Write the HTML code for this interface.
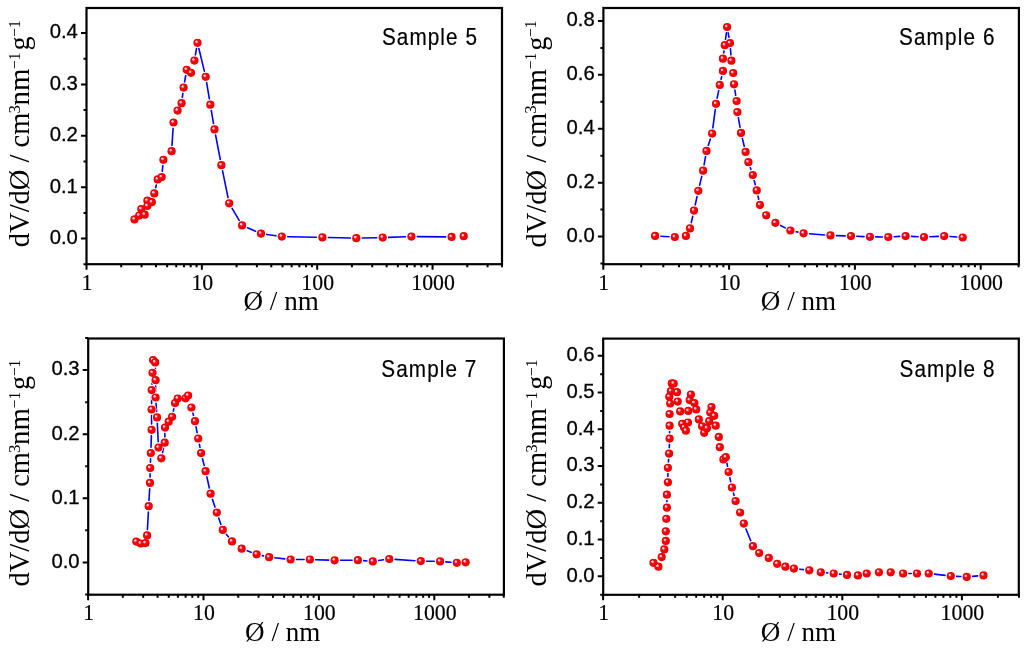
<!DOCTYPE html><html><head><meta charset="utf-8"><style>html,body{margin:0;padding:0;background:#fff;}svg{display:block;}</style></head><body>
<svg style="will-change:transform" width="1024" height="648" viewBox="0 0 1024 648">
<defs><radialGradient id="ball" cx="0.5" cy="0.5" r="0.5" fx="0.33" fy="0.31"><stop offset="0" stop-color="#e8e0ff"/><stop offset="0.2" stop-color="#e8c0e8"/><stop offset="0.4" stop-color="#ff1010"/><stop offset="0.55" stop-color="#ff0000"/><stop offset="0.85" stop-color="#ee0000"/><stop offset="1" stop-color="#dd0000"/></radialGradient></defs>
<rect width="1024" height="648" fill="#fff"/>
<path d="M145.8 209L146.3 206.4M155.67 187.76L156.33 185.04M162.27 171.33L162.83 165.57M171.98 145.41L173.12 128.29M182.34 97.45L182.86 93.35M184.6 81.89L185.7 75.51M195.4 54.89L196.5 48.51M198.86 48.44L204.34 71.16M206.64 82.52L209.36 98.98M211.27 110.42L213.53 123.68M215.6 135.1L220.3 159.5M222.56 170.88L228.04 197.62M232.12 208.31L239.18 220.39M247.42 227.71L255.68 231.29M266.74 234.43L276.06 235.77M287.6 236.71L316.6 237.29M328.2 237.54L350.5 238.06M362.1 238.07L376.9 237.73M388.5 237.4L405.6 236.8M417.2 236.64L445.8 236.86" fill="none" stroke="#0000ff" stroke-width="1.6" stroke-linecap="round"/>
<g fill="#fff"><circle cx="134.5" cy="219.4" r="4.9"/><circle cx="139.2" cy="215.6" r="4.9"/><circle cx="141.3" cy="209.1" r="4.9"/><circle cx="144.7" cy="214.7" r="4.9"/><circle cx="147.4" cy="200.7" r="4.9"/><circle cx="147.4" cy="206" r="4.9"/><circle cx="151.8" cy="202.2" r="4.9"/><circle cx="154.3" cy="193.4" r="4.9"/><circle cx="157.7" cy="179.4" r="4.9"/><circle cx="161.7" cy="177.1" r="4.9"/><circle cx="163.4" cy="159.8" r="4.9"/><circle cx="171.6" cy="151.2" r="4.9"/><circle cx="173.5" cy="122.5" r="4.9"/><circle cx="177.6" cy="110.6" r="4.9"/><circle cx="181.6" cy="103.2" r="4.9"/><circle cx="183.6" cy="87.6" r="4.9"/><circle cx="186.7" cy="69.8" r="4.9"/><circle cx="191" cy="72.8" r="4.9"/><circle cx="194.4" cy="60.6" r="4.9"/><circle cx="197.5" cy="42.8" r="4.9"/><circle cx="205.7" cy="76.8" r="4.9"/><circle cx="210.3" cy="104.7" r="4.9"/><circle cx="214.5" cy="129.4" r="4.9"/><circle cx="221.4" cy="165.2" r="4.9"/><circle cx="229.2" cy="203.3" r="4.9"/><circle cx="242.1" cy="225.4" r="4.9"/><circle cx="261" cy="233.6" r="4.9"/><circle cx="281.8" cy="236.6" r="4.9"/><circle cx="322.4" cy="237.4" r="4.9"/><circle cx="356.3" cy="238.2" r="4.9"/><circle cx="382.7" cy="237.6" r="4.9"/><circle cx="411.4" cy="236.6" r="4.9"/><circle cx="451.6" cy="236.9" r="4.9"/><circle cx="463.7" cy="236.2" r="4.9"/></g>
<g fill="url(#ball)"><circle cx="134.5" cy="219.4" r="4.1"/><circle cx="139.2" cy="215.6" r="4.1"/><circle cx="141.3" cy="209.1" r="4.1"/><circle cx="144.7" cy="214.7" r="4.1"/><circle cx="147.4" cy="200.7" r="4.1"/><circle cx="147.4" cy="206" r="4.1"/><circle cx="151.8" cy="202.2" r="4.1"/><circle cx="154.3" cy="193.4" r="4.1"/><circle cx="157.7" cy="179.4" r="4.1"/><circle cx="161.7" cy="177.1" r="4.1"/><circle cx="163.4" cy="159.8" r="4.1"/><circle cx="171.6" cy="151.2" r="4.1"/><circle cx="173.5" cy="122.5" r="4.1"/><circle cx="177.6" cy="110.6" r="4.1"/><circle cx="181.6" cy="103.2" r="4.1"/><circle cx="183.6" cy="87.6" r="4.1"/><circle cx="186.7" cy="69.8" r="4.1"/><circle cx="191" cy="72.8" r="4.1"/><circle cx="194.4" cy="60.6" r="4.1"/><circle cx="197.5" cy="42.8" r="4.1"/><circle cx="205.7" cy="76.8" r="4.1"/><circle cx="210.3" cy="104.7" r="4.1"/><circle cx="214.5" cy="129.4" r="4.1"/><circle cx="221.4" cy="165.2" r="4.1"/><circle cx="229.2" cy="203.3" r="4.1"/><circle cx="242.1" cy="225.4" r="4.1"/><circle cx="261" cy="233.6" r="4.1"/><circle cx="281.8" cy="236.6" r="4.1"/><circle cx="322.4" cy="237.4" r="4.1"/><circle cx="356.3" cy="238.2" r="4.1"/><circle cx="382.7" cy="237.6" r="4.1"/><circle cx="411.4" cy="236.6" r="4.1"/><circle cx="451.6" cy="236.9" r="4.1"/><circle cx="463.7" cy="236.2" r="4.1"/></g>
<rect x="86.5" y="8" width="415.5" height="256.2" fill="none" stroke="#000" stroke-width="2.2"/>
<path d="M81 238.6H86.5M81 187.2H86.5M81 135.8H86.5M81 84.4H86.5M81 33H86.5M83.5 264.3H86.5M83.5 212.9H86.5M83.5 161.5H86.5M83.5 110.1H86.5M83.5 58.7H86.5M86.5 264.2V269.7M121.22 264.2V267.2M141.54 264.2V267.2M155.95 264.2V267.2M167.13 264.2V267.2M176.26 264.2V267.2M183.98 264.2V267.2M190.67 264.2V267.2M196.57 264.2V267.2M201.85 264.2V269.7M236.57 264.2V267.2M256.89 264.2V267.2M271.3 264.2V267.2M282.48 264.2V267.2M291.61 264.2V267.2M299.33 264.2V267.2M306.02 264.2V267.2M311.92 264.2V267.2M317.2 264.2V269.7M351.92 264.2V267.2M372.24 264.2V267.2M386.65 264.2V267.2M397.83 264.2V267.2M406.96 264.2V267.2M414.68 264.2V267.2M421.37 264.2V267.2M427.27 264.2V267.2M432.55 264.2V269.7M467.27 264.2V267.2M487.59 264.2V267.2M502 264.2V267.2" stroke="#000" stroke-width="2" fill="none"/>
<g font-family="'Liberation Sans', sans-serif" font-size="20.3" text-anchor="end" fill="#000" stroke="#000" stroke-width="0.3"><text x="77.9" y="243.9">0.0</text><text x="77.9" y="192.5">0.1</text><text x="77.9" y="141.1">0.2</text><text x="77.9" y="89.7">0.3</text><text x="77.9" y="38.3">0.4</text></g>
<g font-family="'Liberation Serif', serif" font-size="21.8" text-anchor="middle" fill="#000" stroke="#000" stroke-width="0.2"><text transform="translate(87 289.7) scale(1 1.09)">1</text><text transform="translate(202.35 289.7) scale(1 1.09)">10</text><text transform="translate(317.7 289.7) scale(1 1.09)">100</text><text transform="translate(433.05 289.7) scale(1 1.09)">1000</text></g>
<text transform="translate(243.5 310.1) scale(1 1.03)" font-family="'Liberation Serif', serif" font-size="27.1" fill="#000">&#216; / nm</text>
<g font-family="'Liberation Serif', serif" fill="#000"><text transform="translate(29.4 247.22) rotate(-90) scale(1.0012 1)" font-size="28.5">dV/d&#216; / cm</text><text transform="translate(19.8 113.57) rotate(-90) scale(1.0033 1)" font-size="16.6">3</text><text transform="translate(29.4 105.52) rotate(-90) scale(1.0136 1)" font-size="28.5">nm</text><text transform="translate(19.8 68.88) rotate(-90) scale(0.9350 1)" font-size="16.6">&#8722;1</text><text transform="translate(29.4 50.51) rotate(-90) scale(0.9904 1)" font-size="28.5">g</text><text transform="translate(19.8 36.67) rotate(-90) scale(0.9223 1)" font-size="16.6">&#8722;1</text></g>
<text transform="translate(381.97 45.4) scale(0.9 1)" font-family="'Liberation Sans', sans-serif" font-size="23" fill="#000" stroke="#000" stroke-width="0.2" textLength="105.5" lengthAdjust="spacing">Sample 5</text>
<path d="M660.89 236.22L669.01 236.68M691.27 222.74L692.73 216.26M695.23 204.93L697.07 196.47M699.65 185.16L701.75 176.34M704.08 164.98L705.52 156.62M708.29 145.38L710.31 139.12M712.85 127.85L715.25 109.55M717.14 98.11L718.66 90.59M721.05 79.24L721.65 76.56M723.71 52.96L723.99 50.94M725.53 39.45L726.37 32.75M728.13 32.71L728.97 37.39M730.46 48.88L730.94 54.92M734.89 90.03L735.71 95.27M738.39 117.82L740.01 127.18M742.36 138.54L744.24 146.26M750.29 167.68L750.91 169.52M754.22 180.62L755.28 184.78M757.99 196.06L758.71 199.24M780.56 225.45L785.24 227.85M796.07 231.7L797.93 232.1M809.38 233.75L824.72 234.95M836.3 235.6L845.2 235.9M856.8 236.31L864.1 236.59M875.7 236.86L882.5 236.94M894.09 236.7L899.81 236.4M911.39 236.38L918.21 236.72M929.79 236.74L938.41 236.36M949.98 236.54L956.92 237.06" fill="none" stroke="#0000ff" stroke-width="1.6" stroke-linecap="round"/>
<g fill="#fff"><circle cx="655.1" cy="235.9" r="4.9"/><circle cx="674.8" cy="237" r="4.9"/><circle cx="685.9" cy="235.9" r="4.9"/><circle cx="690" cy="228.4" r="4.9"/><circle cx="694" cy="210.6" r="4.9"/><circle cx="698.3" cy="190.8" r="4.9"/><circle cx="703.1" cy="170.7" r="4.9"/><circle cx="706.5" cy="150.9" r="4.9"/><circle cx="712.1" cy="133.6" r="4.9"/><circle cx="716" cy="103.8" r="4.9"/><circle cx="719.8" cy="84.9" r="4.9"/><circle cx="722.9" cy="70.9" r="4.9"/><circle cx="722.9" cy="58.7" r="4.9"/><circle cx="724.8" cy="45.2" r="4.9"/><circle cx="727.1" cy="27" r="4.9"/><circle cx="730" cy="43.1" r="4.9"/><circle cx="731.4" cy="60.7" r="4.9"/><circle cx="733.2" cy="73" r="4.9"/><circle cx="734" cy="84.3" r="4.9"/><circle cx="736.6" cy="101" r="4.9"/><circle cx="737.4" cy="112.1" r="4.9"/><circle cx="741" cy="132.9" r="4.9"/><circle cx="745.6" cy="151.9" r="4.9"/><circle cx="748.4" cy="162.2" r="4.9"/><circle cx="752.8" cy="175" r="4.9"/><circle cx="756.7" cy="190.4" r="4.9"/><circle cx="760" cy="204.9" r="4.9"/><circle cx="766.2" cy="215.3" r="4.9"/><circle cx="775.4" cy="222.8" r="4.9"/><circle cx="790.4" cy="230.5" r="4.9"/><circle cx="803.6" cy="233.3" r="4.9"/><circle cx="830.5" cy="235.4" r="4.9"/><circle cx="851" cy="236.1" r="4.9"/><circle cx="869.9" cy="236.8" r="4.9"/><circle cx="888.3" cy="237" r="4.9"/><circle cx="905.6" cy="236.1" r="4.9"/><circle cx="924" cy="237" r="4.9"/><circle cx="944.2" cy="236.1" r="4.9"/><circle cx="962.7" cy="237.5" r="4.9"/></g>
<g fill="url(#ball)"><circle cx="655.1" cy="235.9" r="4.1"/><circle cx="674.8" cy="237" r="4.1"/><circle cx="685.9" cy="235.9" r="4.1"/><circle cx="690" cy="228.4" r="4.1"/><circle cx="694" cy="210.6" r="4.1"/><circle cx="698.3" cy="190.8" r="4.1"/><circle cx="703.1" cy="170.7" r="4.1"/><circle cx="706.5" cy="150.9" r="4.1"/><circle cx="712.1" cy="133.6" r="4.1"/><circle cx="716" cy="103.8" r="4.1"/><circle cx="719.8" cy="84.9" r="4.1"/><circle cx="722.9" cy="70.9" r="4.1"/><circle cx="722.9" cy="58.7" r="4.1"/><circle cx="724.8" cy="45.2" r="4.1"/><circle cx="727.1" cy="27" r="4.1"/><circle cx="730" cy="43.1" r="4.1"/><circle cx="731.4" cy="60.7" r="4.1"/><circle cx="733.2" cy="73" r="4.1"/><circle cx="734" cy="84.3" r="4.1"/><circle cx="736.6" cy="101" r="4.1"/><circle cx="737.4" cy="112.1" r="4.1"/><circle cx="741" cy="132.9" r="4.1"/><circle cx="745.6" cy="151.9" r="4.1"/><circle cx="748.4" cy="162.2" r="4.1"/><circle cx="752.8" cy="175" r="4.1"/><circle cx="756.7" cy="190.4" r="4.1"/><circle cx="760" cy="204.9" r="4.1"/><circle cx="766.2" cy="215.3" r="4.1"/><circle cx="775.4" cy="222.8" r="4.1"/><circle cx="790.4" cy="230.5" r="4.1"/><circle cx="803.6" cy="233.3" r="4.1"/><circle cx="830.5" cy="235.4" r="4.1"/><circle cx="851" cy="236.1" r="4.1"/><circle cx="869.9" cy="236.8" r="4.1"/><circle cx="888.3" cy="237" r="4.1"/><circle cx="905.6" cy="236.1" r="4.1"/><circle cx="924" cy="237" r="4.1"/><circle cx="944.2" cy="236.1" r="4.1"/><circle cx="962.7" cy="237.5" r="4.1"/></g>
<rect x="603.4" y="8" width="415.5" height="256.2" fill="none" stroke="#000" stroke-width="2.2"/>
<path d="M597.9 236.55H603.4M597.9 182.65H603.4M597.9 128.75H603.4M597.9 74.85H603.4M597.9 20.95H603.4M600.4 263.5H603.4M600.4 209.6H603.4M600.4 155.7H603.4M600.4 101.8H603.4M600.4 47.9H603.4M603.3 264.2V269.7M641.17 264.2V267.2M663.32 264.2V267.2M679.04 264.2V267.2M691.23 264.2V267.2M701.19 264.2V267.2M709.61 264.2V267.2M716.91 264.2V267.2M723.34 264.2V267.2M729.1 264.2V269.7M766.97 264.2V267.2M789.12 264.2V267.2M804.84 264.2V267.2M817.03 264.2V267.2M826.99 264.2V267.2M835.41 264.2V267.2M842.71 264.2V267.2M849.14 264.2V267.2M854.9 264.2V269.7M892.77 264.2V267.2M914.92 264.2V267.2M930.64 264.2V267.2M942.83 264.2V267.2M952.79 264.2V267.2M961.21 264.2V267.2M968.51 264.2V267.2M974.94 264.2V267.2M980.7 264.2V269.7M1018.57 264.2V267.2" stroke="#000" stroke-width="2" fill="none"/>
<g font-family="'Liberation Sans', sans-serif" font-size="20.3" text-anchor="end" fill="#000" stroke="#000" stroke-width="0.3"><text x="594.8" y="241.85">0.0</text><text x="594.8" y="187.95">0.2</text><text x="594.8" y="134.05">0.4</text><text x="594.8" y="80.15">0.6</text><text x="594.8" y="26.25">0.8</text></g>
<g font-family="'Liberation Serif', serif" font-size="21.8" text-anchor="middle" fill="#000" stroke="#000" stroke-width="0.2"><text transform="translate(603.8 289.7) scale(1 1.09)">1</text><text transform="translate(729.6 289.7) scale(1 1.09)">10</text><text transform="translate(855.4 289.7) scale(1 1.09)">100</text><text transform="translate(981.2 289.7) scale(1 1.09)">1000</text></g>
<text transform="translate(760.8 309.9) scale(1 1.03)" font-family="'Liberation Serif', serif" font-size="27.1" fill="#000">&#216; / nm</text>
<g font-family="'Liberation Serif', serif" fill="#000"><text transform="translate(546 247.52) rotate(-90) scale(1.0012 1)" font-size="28.5">dV/d&#216; / cm</text><text transform="translate(536.4 113.87) rotate(-90) scale(1.0033 1)" font-size="16.6">3</text><text transform="translate(546 105.82) rotate(-90) scale(1.0136 1)" font-size="28.5">nm</text><text transform="translate(536.4 69.18) rotate(-90) scale(0.9350 1)" font-size="16.6">&#8722;1</text><text transform="translate(546 50.81) rotate(-90) scale(0.9904 1)" font-size="28.5">g</text><text transform="translate(536.4 36.97) rotate(-90) scale(0.9223 1)" font-size="16.6">&#8722;1</text></g>
<text transform="translate(898.97 45.4) scale(0.9 1)" font-family="'Liberation Sans', sans-serif" font-size="23" fill="#000" stroke="#000" stroke-width="0.2" textLength="106.17" lengthAdjust="spacing">Sample 6</text>
<path d="M147.42 529.61L148.38 511.99M149.02 500.41L149.68 488.69M150.08 477.1L150.12 473.8M150.43 462.2L150.57 458.8M151 447.2L151.4 435.6M151.6 424L151.6 415.3M151.63 403.7L151.67 395.9M151.97 384.31L152.23 378.59M155.33 368.2L155.47 374.4M155.6 386L155.6 391.7M156.01 403.29L156.59 411.61M157.29 423.19L158.21 441.81M162.54 452.63L163.46 448.37M164.82 436.9L164.88 433.4M173.3 411.13L173.8 408.77M192.87 413.11L193.53 415.59M196.05 426.9L197.15 432.8M199.33 444.19L199.97 447.41M202.5 458.73L204.2 465.57M206.86 476.86L209.34 488.04M212.41 499.21L214.99 507.09M218.7 518.08L220.9 524.42M226.42 534.43L228.38 536.87M247.13 550.74L251.17 552.26M262.25 555.61L263.45 555.89M274.87 557.82L284.83 558.88M296.4 559.5L304.1 559.5M315.7 559.69L328.8 560.11M340.4 560.28L352.1 560.22M363.68 560.67L367.02 560.93M378.54 560.57L383.56 559.83M395.09 559.39L415.01 560.71M426.6 561.19L434.3 561.31M445.88 561.88L451.02 562.32" fill="none" stroke="#0000ff" stroke-width="1.6" stroke-linecap="round"/>
<g fill="#fff"><circle cx="136.3" cy="541.6" r="4.9"/><circle cx="140.7" cy="543.5" r="4.9"/><circle cx="145.5" cy="543.1" r="4.9"/><circle cx="147.1" cy="535.4" r="4.9"/><circle cx="148.7" cy="506.2" r="4.9"/><circle cx="150" cy="482.9" r="4.9"/><circle cx="150.2" cy="468" r="4.9"/><circle cx="150.8" cy="453" r="4.9"/><circle cx="151.6" cy="429.8" r="4.9"/><circle cx="151.6" cy="409.5" r="4.9"/><circle cx="151.7" cy="390.1" r="4.9"/><circle cx="152.5" cy="372.8" r="4.9"/><circle cx="153.1" cy="360.1" r="4.9"/><circle cx="155.2" cy="362.4" r="4.9"/><circle cx="155.6" cy="380.2" r="4.9"/><circle cx="155.6" cy="397.5" r="4.9"/><circle cx="157" cy="417.4" r="4.9"/><circle cx="158.5" cy="447.6" r="4.9"/><circle cx="161.3" cy="458.3" r="4.9"/><circle cx="164.7" cy="442.7" r="4.9"/><circle cx="165" cy="427.6" r="4.9"/><circle cx="168.7" cy="421.7" r="4.9"/><circle cx="172.1" cy="416.8" r="4.9"/><circle cx="175" cy="403.1" r="4.9"/><circle cx="177.7" cy="398.5" r="4.9"/><circle cx="185.5" cy="398.3" r="4.9"/><circle cx="188.1" cy="395.6" r="4.9"/><circle cx="191.4" cy="407.5" r="4.9"/><circle cx="195" cy="421.2" r="4.9"/><circle cx="198.2" cy="438.5" r="4.9"/><circle cx="201.1" cy="453.1" r="4.9"/><circle cx="205.6" cy="471.2" r="4.9"/><circle cx="210.6" cy="493.7" r="4.9"/><circle cx="216.8" cy="512.6" r="4.9"/><circle cx="222.8" cy="529.9" r="4.9"/><circle cx="232" cy="541.4" r="4.9"/><circle cx="241.7" cy="548.7" r="4.9"/><circle cx="256.6" cy="554.3" r="4.9"/><circle cx="269.1" cy="557.2" r="4.9"/><circle cx="290.6" cy="559.5" r="4.9"/><circle cx="309.9" cy="559.5" r="4.9"/><circle cx="334.6" cy="560.3" r="4.9"/><circle cx="357.9" cy="560.2" r="4.9"/><circle cx="372.8" cy="561.4" r="4.9"/><circle cx="389.3" cy="559" r="4.9"/><circle cx="420.8" cy="561.1" r="4.9"/><circle cx="440.1" cy="561.4" r="4.9"/><circle cx="456.8" cy="562.8" r="4.9"/><circle cx="465.6" cy="562.3" r="4.9"/></g>
<g fill="url(#ball)"><circle cx="136.3" cy="541.6" r="4.1"/><circle cx="140.7" cy="543.5" r="4.1"/><circle cx="145.5" cy="543.1" r="4.1"/><circle cx="147.1" cy="535.4" r="4.1"/><circle cx="148.7" cy="506.2" r="4.1"/><circle cx="150" cy="482.9" r="4.1"/><circle cx="150.2" cy="468" r="4.1"/><circle cx="150.8" cy="453" r="4.1"/><circle cx="151.6" cy="429.8" r="4.1"/><circle cx="151.6" cy="409.5" r="4.1"/><circle cx="151.7" cy="390.1" r="4.1"/><circle cx="152.5" cy="372.8" r="4.1"/><circle cx="153.1" cy="360.1" r="4.1"/><circle cx="155.2" cy="362.4" r="4.1"/><circle cx="155.6" cy="380.2" r="4.1"/><circle cx="155.6" cy="397.5" r="4.1"/><circle cx="157" cy="417.4" r="4.1"/><circle cx="158.5" cy="447.6" r="4.1"/><circle cx="161.3" cy="458.3" r="4.1"/><circle cx="164.7" cy="442.7" r="4.1"/><circle cx="165" cy="427.6" r="4.1"/><circle cx="168.7" cy="421.7" r="4.1"/><circle cx="172.1" cy="416.8" r="4.1"/><circle cx="175" cy="403.1" r="4.1"/><circle cx="177.7" cy="398.5" r="4.1"/><circle cx="185.5" cy="398.3" r="4.1"/><circle cx="188.1" cy="395.6" r="4.1"/><circle cx="191.4" cy="407.5" r="4.1"/><circle cx="195" cy="421.2" r="4.1"/><circle cx="198.2" cy="438.5" r="4.1"/><circle cx="201.1" cy="453.1" r="4.1"/><circle cx="205.6" cy="471.2" r="4.1"/><circle cx="210.6" cy="493.7" r="4.1"/><circle cx="216.8" cy="512.6" r="4.1"/><circle cx="222.8" cy="529.9" r="4.1"/><circle cx="232" cy="541.4" r="4.1"/><circle cx="241.7" cy="548.7" r="4.1"/><circle cx="256.6" cy="554.3" r="4.1"/><circle cx="269.1" cy="557.2" r="4.1"/><circle cx="290.6" cy="559.5" r="4.1"/><circle cx="309.9" cy="559.5" r="4.1"/><circle cx="334.6" cy="560.3" r="4.1"/><circle cx="357.9" cy="560.2" r="4.1"/><circle cx="372.8" cy="561.4" r="4.1"/><circle cx="389.3" cy="559" r="4.1"/><circle cx="420.8" cy="561.1" r="4.1"/><circle cx="440.1" cy="561.4" r="4.1"/><circle cx="456.8" cy="562.8" r="4.1"/><circle cx="465.6" cy="562.3" r="4.1"/></g>
<rect x="88.2" y="338.5" width="415.7" height="256.2" fill="none" stroke="#000" stroke-width="2.2"/>
<path d="M82.7 562.4H88.2M82.7 498.3H88.2M82.7 434.2H88.2M82.7 370.1H88.2M85.2 594.45H88.2M85.2 530.35H88.2M85.2 466.25H88.2M85.2 402.15H88.2M85.2 338.05H88.2M88.1 594.7V600.2M122.84 594.7V597.7M143.16 594.7V597.7M157.58 594.7V597.7M168.76 594.7V597.7M177.9 594.7V597.7M185.62 594.7V597.7M192.32 594.7V597.7M198.22 594.7V597.7M203.5 594.7V600.2M238.24 594.7V597.7M258.56 594.7V597.7M272.98 594.7V597.7M284.16 594.7V597.7M293.3 594.7V597.7M301.02 594.7V597.7M307.72 594.7V597.7M313.62 594.7V597.7M318.9 594.7V600.2M353.64 594.7V597.7M373.96 594.7V597.7M388.38 594.7V597.7M399.56 594.7V597.7M408.7 594.7V597.7M416.42 594.7V597.7M423.12 594.7V597.7M429.02 594.7V597.7M434.3 594.7V600.2M469.04 594.7V597.7M489.36 594.7V597.7M503.78 594.7V597.7" stroke="#000" stroke-width="2" fill="none"/>
<g font-family="'Liberation Sans', sans-serif" font-size="20.3" text-anchor="end" fill="#000" stroke="#000" stroke-width="0.3"><text x="79.6" y="567.7">0.0</text><text x="79.6" y="503.6">0.1</text><text x="79.6" y="439.5">0.2</text><text x="79.6" y="375.4">0.3</text></g>
<g font-family="'Liberation Serif', serif" font-size="21.8" text-anchor="middle" fill="#000" stroke="#000" stroke-width="0.2"><text transform="translate(88.6 619.9) scale(1 1.09)">1</text><text transform="translate(204 619.9) scale(1 1.09)">10</text><text transform="translate(319.4 619.9) scale(1 1.09)">100</text><text transform="translate(434.8 619.9) scale(1 1.09)">1000</text></g>
<text transform="translate(245.1 641.1) scale(1 1.03)" font-family="'Liberation Serif', serif" font-size="27.1" fill="#000">&#216; / nm</text>
<g font-family="'Liberation Serif', serif" fill="#000"><text transform="translate(29.4 586.62) rotate(-90) scale(1.0012 1)" font-size="28.5">dV/d&#216; / cm</text><text transform="translate(19.8 452.97) rotate(-90) scale(1.0033 1)" font-size="16.6">3</text><text transform="translate(29.4 444.92) rotate(-90) scale(1.0136 1)" font-size="28.5">nm</text><text transform="translate(19.8 408.28) rotate(-90) scale(0.9350 1)" font-size="16.6">&#8722;1</text><text transform="translate(29.4 389.91) rotate(-90) scale(0.9904 1)" font-size="28.5">g</text><text transform="translate(19.8 376.07) rotate(-90) scale(0.9223 1)" font-size="16.6">&#8722;1</text></g>
<text transform="translate(381.37 377.1) scale(0.9 1)" font-family="'Liberation Sans', sans-serif" font-size="23" fill="#000" stroke="#000" stroke-width="0.2" textLength="105.5" lengthAdjust="spacing">Sample 7</text>
<path d="M666.9 501.8L666.9 500.5M667.9 476.5L667.9 473.6M668.39 462.02L668.61 459.38M669.29 447.8L669.41 444.4M669.6 432.8L669.6 431.5M726.88 462.9L727.52 466.3M729.81 477.67L730.69 481.83M733.43 493.09L734.07 495.41M745.97 528.98L750.73 540.82M799.66 569.24L803.54 569.66M826.58 572.84L827.92 572.96M839.47 574.11L841.23 574.29M908.9 573.5L911.2 573.5M934.46 574.15L945.04 575.35M956.59 576.33L960.91 576.57M972.48 576.38L977.72 575.92" fill="none" stroke="#0000ff" stroke-width="1.6" stroke-linecap="round"/>
<g fill="#fff"><circle cx="653.5" cy="562.8" r="4.9"/><circle cx="658.4" cy="566.7" r="4.9"/><circle cx="661.7" cy="557.1" r="4.9"/><circle cx="664.3" cy="549.4" r="4.9"/><circle cx="665.8" cy="540.9" r="4.9"/><circle cx="665.8" cy="531.3" r="4.9"/><circle cx="666.3" cy="518.8" r="4.9"/><circle cx="666.9" cy="507.6" r="4.9"/><circle cx="666.9" cy="494.7" r="4.9"/><circle cx="667.9" cy="482.3" r="4.9"/><circle cx="667.9" cy="467.8" r="4.9"/><circle cx="669.1" cy="453.6" r="4.9"/><circle cx="669.6" cy="438.6" r="4.9"/><circle cx="669.6" cy="425.7" r="4.9"/><circle cx="669.6" cy="414" r="4.9"/><circle cx="670.2" cy="403.5" r="4.9"/><circle cx="669.3" cy="396.7" r="4.9"/><circle cx="670.9" cy="391.1" r="4.9"/><circle cx="671.8" cy="383.4" r="4.9"/><circle cx="673.7" cy="383.6" r="4.9"/><circle cx="677" cy="392.2" r="4.9"/><circle cx="677.7" cy="401.6" r="4.9"/><circle cx="680.2" cy="411.4" r="4.9"/><circle cx="682.2" cy="423.8" r="4.9"/><circle cx="684.1" cy="427.6" r="4.9"/><circle cx="685.9" cy="430.7" r="4.9"/><circle cx="688" cy="422.5" r="4.9"/><circle cx="688.3" cy="410.9" r="4.9"/><circle cx="689.7" cy="400.1" r="4.9"/><circle cx="690.9" cy="394.5" r="4.9"/><circle cx="694.4" cy="403" r="4.9"/><circle cx="696.2" cy="409.4" r="4.9"/><circle cx="698.8" cy="419.4" r="4.9"/><circle cx="702.1" cy="426.3" r="4.9"/><circle cx="704.2" cy="432.8" r="4.9"/><circle cx="706.9" cy="428.2" r="4.9"/><circle cx="709.2" cy="421.2" r="4.9"/><circle cx="710.3" cy="412.6" r="4.9"/><circle cx="711.5" cy="407" r="4.9"/><circle cx="714.2" cy="415.8" r="4.9"/><circle cx="715.7" cy="425.7" r="4.9"/><circle cx="718.8" cy="436.9" r="4.9"/><circle cx="719.8" cy="447.2" r="4.9"/><circle cx="723.4" cy="459.4" r="4.9"/><circle cx="725.8" cy="457.2" r="4.9"/><circle cx="728.6" cy="472" r="4.9"/><circle cx="731.9" cy="487.5" r="4.9"/><circle cx="735.6" cy="501" r="4.9"/><circle cx="740.1" cy="512.5" r="4.9"/><circle cx="743.8" cy="523.6" r="4.9"/><circle cx="752.9" cy="546.2" r="4.9"/><circle cx="759.2" cy="553" r="4.9"/><circle cx="768.8" cy="557.9" r="4.9"/><circle cx="777.2" cy="563.8" r="4.9"/><circle cx="785.4" cy="566.7" r="4.9"/><circle cx="793.9" cy="568.6" r="4.9"/><circle cx="809.3" cy="570.3" r="4.9"/><circle cx="820.8" cy="572.3" r="4.9"/><circle cx="833.7" cy="573.5" r="4.9"/><circle cx="847" cy="574.9" r="4.9"/><circle cx="857.9" cy="575.4" r="4.9"/><circle cx="866.7" cy="573.5" r="4.9"/><circle cx="878.9" cy="572.3" r="4.9"/><circle cx="890.7" cy="572.3" r="4.9"/><circle cx="903.1" cy="573.5" r="4.9"/><circle cx="917" cy="573.5" r="4.9"/><circle cx="928.7" cy="573.5" r="4.9"/><circle cx="950.8" cy="576" r="4.9"/><circle cx="966.7" cy="576.9" r="4.9"/><circle cx="983.5" cy="575.4" r="4.9"/></g>
<g fill="url(#ball)"><circle cx="653.5" cy="562.8" r="4.1"/><circle cx="658.4" cy="566.7" r="4.1"/><circle cx="661.7" cy="557.1" r="4.1"/><circle cx="664.3" cy="549.4" r="4.1"/><circle cx="665.8" cy="540.9" r="4.1"/><circle cx="665.8" cy="531.3" r="4.1"/><circle cx="666.3" cy="518.8" r="4.1"/><circle cx="666.9" cy="507.6" r="4.1"/><circle cx="666.9" cy="494.7" r="4.1"/><circle cx="667.9" cy="482.3" r="4.1"/><circle cx="667.9" cy="467.8" r="4.1"/><circle cx="669.1" cy="453.6" r="4.1"/><circle cx="669.6" cy="438.6" r="4.1"/><circle cx="669.6" cy="425.7" r="4.1"/><circle cx="669.6" cy="414" r="4.1"/><circle cx="670.2" cy="403.5" r="4.1"/><circle cx="669.3" cy="396.7" r="4.1"/><circle cx="670.9" cy="391.1" r="4.1"/><circle cx="671.8" cy="383.4" r="4.1"/><circle cx="673.7" cy="383.6" r="4.1"/><circle cx="677" cy="392.2" r="4.1"/><circle cx="677.7" cy="401.6" r="4.1"/><circle cx="680.2" cy="411.4" r="4.1"/><circle cx="682.2" cy="423.8" r="4.1"/><circle cx="684.1" cy="427.6" r="4.1"/><circle cx="685.9" cy="430.7" r="4.1"/><circle cx="688" cy="422.5" r="4.1"/><circle cx="688.3" cy="410.9" r="4.1"/><circle cx="689.7" cy="400.1" r="4.1"/><circle cx="690.9" cy="394.5" r="4.1"/><circle cx="694.4" cy="403" r="4.1"/><circle cx="696.2" cy="409.4" r="4.1"/><circle cx="698.8" cy="419.4" r="4.1"/><circle cx="702.1" cy="426.3" r="4.1"/><circle cx="704.2" cy="432.8" r="4.1"/><circle cx="706.9" cy="428.2" r="4.1"/><circle cx="709.2" cy="421.2" r="4.1"/><circle cx="710.3" cy="412.6" r="4.1"/><circle cx="711.5" cy="407" r="4.1"/><circle cx="714.2" cy="415.8" r="4.1"/><circle cx="715.7" cy="425.7" r="4.1"/><circle cx="718.8" cy="436.9" r="4.1"/><circle cx="719.8" cy="447.2" r="4.1"/><circle cx="723.4" cy="459.4" r="4.1"/><circle cx="725.8" cy="457.2" r="4.1"/><circle cx="728.6" cy="472" r="4.1"/><circle cx="731.9" cy="487.5" r="4.1"/><circle cx="735.6" cy="501" r="4.1"/><circle cx="740.1" cy="512.5" r="4.1"/><circle cx="743.8" cy="523.6" r="4.1"/><circle cx="752.9" cy="546.2" r="4.1"/><circle cx="759.2" cy="553" r="4.1"/><circle cx="768.8" cy="557.9" r="4.1"/><circle cx="777.2" cy="563.8" r="4.1"/><circle cx="785.4" cy="566.7" r="4.1"/><circle cx="793.9" cy="568.6" r="4.1"/><circle cx="809.3" cy="570.3" r="4.1"/><circle cx="820.8" cy="572.3" r="4.1"/><circle cx="833.7" cy="573.5" r="4.1"/><circle cx="847" cy="574.9" r="4.1"/><circle cx="857.9" cy="575.4" r="4.1"/><circle cx="866.7" cy="573.5" r="4.1"/><circle cx="878.9" cy="572.3" r="4.1"/><circle cx="890.7" cy="572.3" r="4.1"/><circle cx="903.1" cy="573.5" r="4.1"/><circle cx="917" cy="573.5" r="4.1"/><circle cx="928.7" cy="573.5" r="4.1"/><circle cx="950.8" cy="576" r="4.1"/><circle cx="966.7" cy="576.9" r="4.1"/><circle cx="983.5" cy="575.4" r="4.1"/></g>
<rect x="603.2" y="338.6" width="415.6" height="256.2" fill="none" stroke="#000" stroke-width="2.2"/>
<path d="M597.7 576.3H603.2M597.7 539.55H603.2M597.7 502.8H603.2M597.7 466.05H603.2M597.7 429.3H603.2M597.7 392.55H603.2M597.7 355.8H603.2M600.2 594.67H603.2M600.2 557.92H603.2M600.2 521.17H603.2M600.2 484.42H603.2M600.2 447.67H603.2M600.2 410.92H603.2M600.2 374.17H603.2M603.1 594.8V600.3M639.1 594.8V597.8M660.16 594.8V597.8M675.11 594.8V597.8M686.7 594.8V597.8M696.17 594.8V597.8M704.17 594.8V597.8M711.11 594.8V597.8M717.23 594.8V597.8M722.7 594.8V600.3M758.7 594.8V597.8M779.76 594.8V597.8M794.71 594.8V597.8M806.3 594.8V597.8M815.77 594.8V597.8M823.77 594.8V597.8M830.71 594.8V597.8M836.83 594.8V597.8M842.3 594.8V600.3M878.3 594.8V597.8M899.36 594.8V597.8M914.31 594.8V597.8M925.9 594.8V597.8M935.37 594.8V597.8M943.37 594.8V597.8M950.31 594.8V597.8M956.43 594.8V597.8M961.9 594.8V600.3M997.9 594.8V597.8M1018.96 594.8V597.8" stroke="#000" stroke-width="2" fill="none"/>
<g font-family="'Liberation Sans', sans-serif" font-size="20.3" text-anchor="end" fill="#000" stroke="#000" stroke-width="0.3"><text x="594.6" y="581.6">0.0</text><text x="594.6" y="544.85">0.1</text><text x="594.6" y="508.1">0.2</text><text x="594.6" y="471.35">0.3</text><text x="594.6" y="434.6">0.4</text><text x="594.6" y="397.85">0.5</text><text x="594.6" y="361.1">0.6</text></g>
<g font-family="'Liberation Serif', serif" font-size="21.8" text-anchor="middle" fill="#000" stroke="#000" stroke-width="0.2"><text transform="translate(603.6 619.9) scale(1 1.09)">1</text><text transform="translate(723.2 619.9) scale(1 1.09)">10</text><text transform="translate(842.8 619.9) scale(1 1.09)">100</text><text transform="translate(962.4 619.9) scale(1 1.09)">1000</text></g>
<text transform="translate(760.8 641.1) scale(1 1.03)" font-family="'Liberation Serif', serif" font-size="27.1" fill="#000">&#216; / nm</text>
<g font-family="'Liberation Serif', serif" fill="#000"><text transform="translate(546.1 586.52) rotate(-90) scale(1.0012 1)" font-size="28.5">dV/d&#216; / cm</text><text transform="translate(536.5 452.87) rotate(-90) scale(1.0033 1)" font-size="16.6">3</text><text transform="translate(546.1 444.82) rotate(-90) scale(1.0136 1)" font-size="28.5">nm</text><text transform="translate(536.5 408.18) rotate(-90) scale(0.9350 1)" font-size="16.6">&#8722;1</text><text transform="translate(546.1 389.81) rotate(-90) scale(0.9904 1)" font-size="28.5">g</text><text transform="translate(536.5 375.97) rotate(-90) scale(0.9223 1)" font-size="16.6">&#8722;1</text></g>
<text transform="translate(899.57 377.1) scale(0.9 1)" font-family="'Liberation Sans', sans-serif" font-size="23" fill="#000" stroke="#000" stroke-width="0.2" textLength="105.5" lengthAdjust="spacing">Sample 8</text>
</svg></body></html>
